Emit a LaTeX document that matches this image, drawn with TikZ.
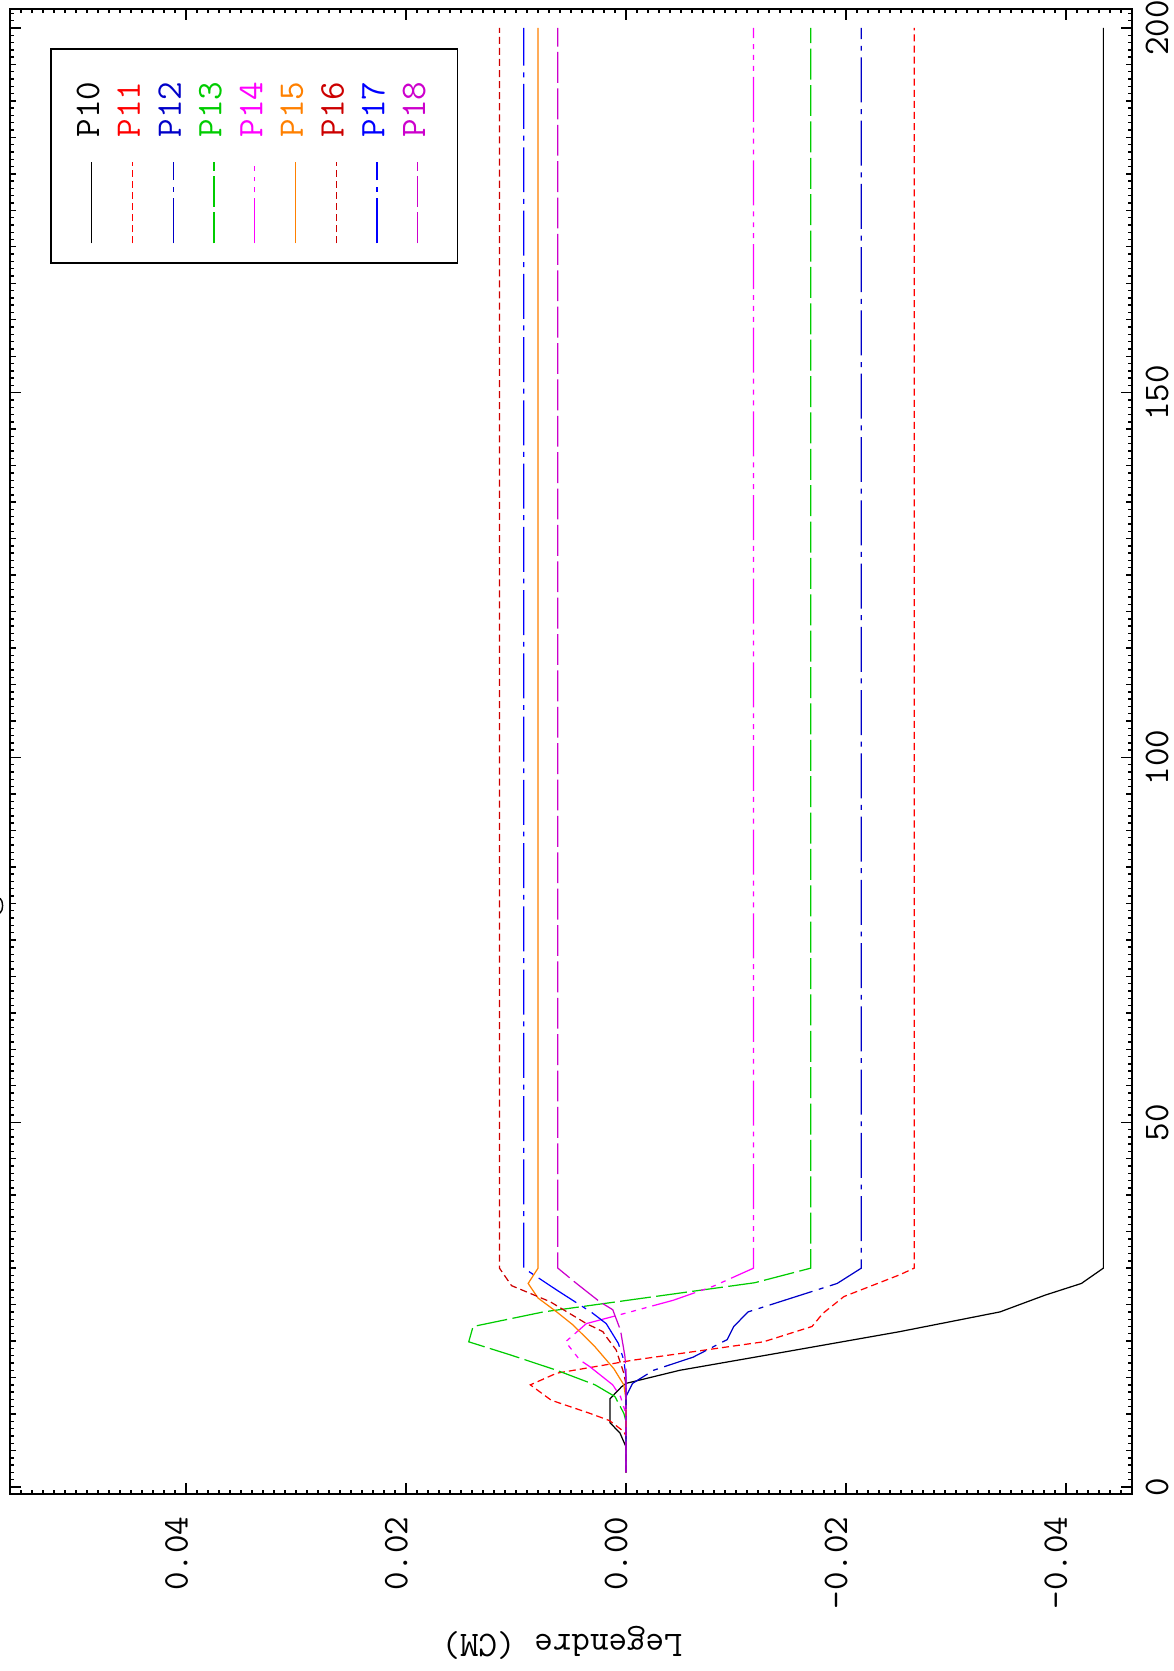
\documentclass[tikz,border=0pt]{standalone}
\usepackage{xcolor}
\usepackage{tikz}
\definecolor{ptred}{RGB}{255,0,0}
\definecolor{ptnavy}{RGB}{0,0,200}
\definecolor{ptgreen}{RGB}{0,204,0}
\definecolor{ptmagenta}{RGB}{255,0,255}
\definecolor{ptorange}{RGB}{255,128,0}
\definecolor{ptdarkred}{RGB}{204,0,0}
\definecolor{ptblue}{RGB}{0,0,255}
\definecolor{ptpurple}{RGB}{204,0,204}

\begin{document}
\begin{tikzpicture}[
    curve/.style={line width=0.7pt},
    frame/.style={line width=1.1pt},
    tick/.style={line width=0.8pt},
    ticklabel/.style={font=\ttfamily\fontsize{20.5}{24}\selectfont, rotate=90, inner sep=0pt},
    axislabel/.style={font=\ttfamily\fontsize{20.5}{24}\selectfont, rotate=180, inner sep=0pt},
    shortdash/.style={dash pattern=on 4pt off 2.3pt},
    dashdot/.style={dash pattern=on 25.6pt off 3.8pt on 2.8pt off 3.8pt},
    longdash/.style={dash pattern=on 17.6pt off 3.1pt},
    dashdotdot/.style={dash pattern=on 25.6pt off 3.4pt on 2.8pt off 3.4pt on 2.8pt off 3.4pt on 2.8pt off 3.4pt}
]
    \useasboundingbox (0,0) rectangle (23.48,33.42);

    % Plot area (position runs up the page, value runs to the left)
    \begin{scope}[shift={(12.52,3.68)}, x={(0cm,0.1459cm)}, y={(-220cm,0cm)}]
        % Frame
        \draw[frame] (-0.96,-0.046) rectangle (202.6,0.056);

        % Ticks along the position axis
        \foreach \k in {0,...,202} {
            \draw[tick] (\k,0.056) -- ++(0.08cm,0);
            \draw[tick] (\k,-0.046) -- ++(-0.08cm,0);
        }
        \foreach \k in {0,5,...,200} {
            \draw[tick] (\k,0.056) -- ++(0.12cm,0);
            \draw[tick] (\k,-0.046) -- ++(-0.12cm,0);
        }
        \foreach \k in {0,50,...,200} {
            \draw[tick] (\k,0.056) -- ++(0.22cm,0);
            \draw[tick] (\k,-0.046) -- ++(-0.22cm,0);
        }

        % Ticks along the value axis
        \foreach \v in {-45,...,55} {
            \draw[tick] (-0.96,\v/1000) -- ++(0,0.08cm);
            \draw[tick] (202.6,\v/1000) -- ++(0,-0.08cm);
        }
        \foreach \v in {-40,-20,0,20,40} {
            \draw[tick] (-0.96,\v/1000) -- ++(0,0.22cm);
            \draw[tick] (202.6,\v/1000) -- ++(0,-0.22cm);
        }

        % Curves
        \draw[curve, black] plot coordinates {(2,0) (5.5,0) (7.4,0.00055) (8.8,0.00145) (12.1,0.00145) (13.75,0.0004) (14.2,0) (16,-0.0049) (18.4,-0.014) (21.3,-0.0249) (24,-0.034) (26.3,-0.0381) (27.9,-0.0414) (30,-0.0434) (200,-0.0434)};
        \draw[curve, ptred, shortdash] plot coordinates {(2,0) (7,0) (7.6,0.0002) (9.1,0.0015) (10.1,0.0033) (11.9,0.0068) (14,0.0087) (15.6,0.0063) (17.4,-0.0007) (19.9,-0.0125) (22,-0.0169) (23.8,-0.0179) (26.1,-0.0198) (29.1,-0.0249) (30,-0.0262) (200,-0.0262)};
        \draw[curve, ptnavy, dashdot] plot coordinates {(2,0) (12.4,0) (14.2,-0.0006) (16,-0.0025) (17.8,-0.0061) (20.2,-0.0092) (22,-0.0098) (24,-0.0111) (25.4,-0.014) (27.9,-0.0192) (30,-0.0214) (200,-0.0214)};
        \draw[curve, ptgreen, longdash] plot coordinates {(2,0) (9,0) (10.1,0.0002) (12.4,0.001) (14,0.0028) (16,0.0063) (18.1,0.0105) (19.9,0.0143) (22,0.0139) (24,0.0075) (28,-0.0117) (30,-0.0168) (200,-0.0168)};
        \draw[curve, ptmagenta, dashdotdot] plot coordinates {(2,0) (10,0) (12.4,0.0005) (14,0.0012) (16.5,0.0033) (17.4,0.0042) (19.9,0.0055) (22.4,0.0036) (24,-0.0004) (25.6,-0.0043) (27.5,-0.0079) (30,-0.0116) (200,-0.0116)};
        \draw[curve, ptorange] plot coordinates {(2,0) (12,0) (14,0.0002) (16.2,0.0011) (19.2,0.0028) (22.2,0.0048) (24,0.0063) (25.9,0.008) (27.9,0.0089) (30,0.008) (200,0.008)};
        \draw[curve, ptdarkred, shortdash] plot coordinates {(2,0) (14,0) (15.6,0.0002) (18.8,0.0009) (20.6,0.0018) (21.3,0.0021) (22.4,0.0036) (25.4,0.0069) (27.6,0.0104) (30,0.0115) (200,0.0115)};
        \draw[curve, ptblue, dashdot] plot coordinates {(2,0) (15,0) (17.4,0.0002) (19.7,0.0007) (22.4,0.0018) (23.9,0.0031) (27,0.0063) (30,0.0093) (200,0.0093)};
        \draw[curve, ptpurple, longdash] plot coordinates {(2,0) (16,0) (18,0.0001) (21.5,0.0005) (24.3,0.0012) (25.4,0.0024) (27.9,0.0045) (30,0.0062) (200,0.0062)};
    \end{scope}

    % Labels and legend in page pixels
    \begin{scope}[shift={(0,33.42)}, x=0.02cm, y=-0.02cm]
        % Value tick labels
        \foreach \lab [count=\i] in {0.04,0.02,0.00,-0.02,-0.04}
            \node[ticklabel, anchor=east] (ylab\i) at ({176.5+219.8*(\i-1)},1516) {\lab};

        % Position tick labels
        \foreach \k in {0,50,...,200}
            \node[ticklabel] (xlab\k) at (1157,{1487-7.295*\k}) {\k};

        % Axis title
        \node[axislabel] (vtitle) at (562,1643) {Legendre (CM)};

        % Clipped title glyph at the left edge
        \draw[line width=0.8pt] (0,898) .. controls (3.5,901) and (3.5,910) .. (0,913);

        % Legend
        \draw[line width=1pt] (50.7,49.3) rectangle (457.3,263.3);
        \foreach \nm/\col/\sty [count=\i] in {P10/black/solid, P11/ptred/shortdash, P12/ptnavy/dashdot, P13/ptgreen/longdash, P14/ptmagenta/dashdotdot, P15/ptorange/solid, P16/ptdarkred/shortdash, P17/ptblue/dashdot, P18/ptpurple/longdash} {
            \draw[curve, draw=\col, \sty] ({91.7+40.75*(\i-1)},243.3) -- ++(0,-81.6);
            \node[ticklabel, text=\col, anchor=east] (leg\i) at ({88+40.75*(\i-1)},81.5) {\nm};
        }
    \end{scope}
\end{tikzpicture}
\end{document}
